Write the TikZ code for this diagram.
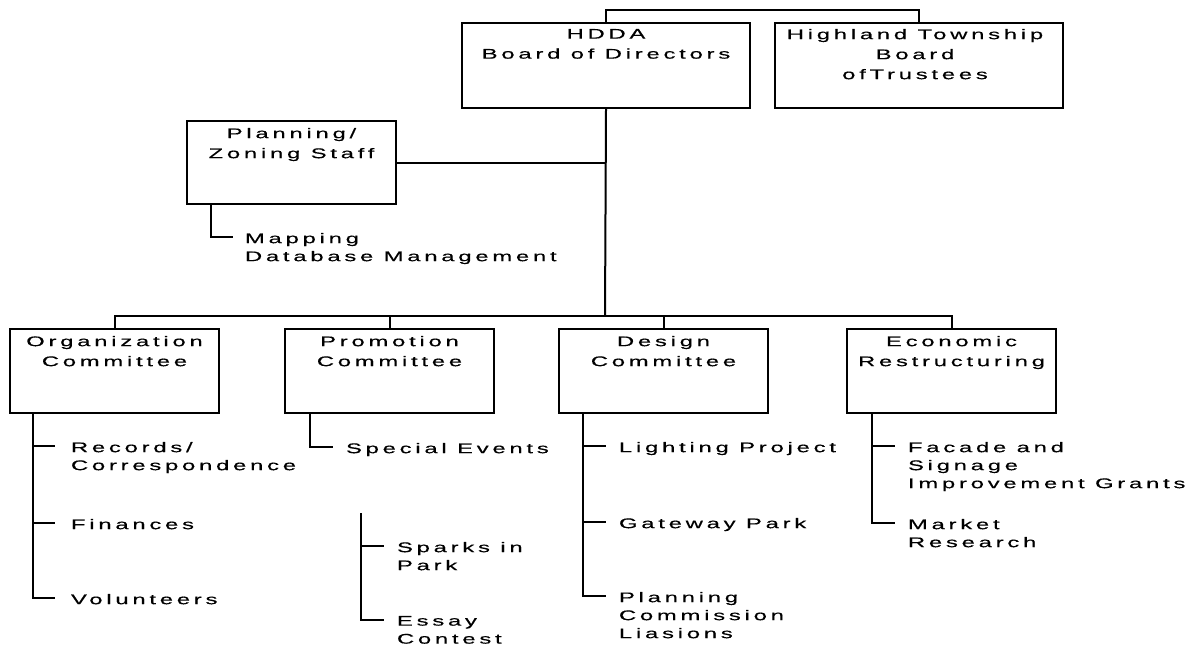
\documentclass[tikz,border=0pt]{standalone}
\usepackage{fontspec}
\setmainfont{Liberation Sans}[FakeStretch=1.7,LetterSpace=27,FakeBold=0.4]
\begin{document}
\begin{tikzpicture}[x=1pt,y=-1pt,
  line width=2pt,
  box/.style={draw,rectangle,inner sep=0pt,anchor=north west},
  boxtext/.style={anchor=north,inner sep=0pt,align=center,font=\fontsize{14}{20}\selectfont},
  item/.style={anchor=north west,inner sep=0pt,align=left,font=\fontsize{14}{18}\selectfont}]
\useasboundingbox (0,0) rectangle (1196,645);
% boxes
\node[box,minimum width=288,minimum height=85] (hdda) at (461,22) {};
\node[box,minimum width=288,minimum height=85] (hil) at (774,22) {};
\node[box,minimum width=209,minimum height=83] (plan) at (186,120) {};
\node[box,minimum width=209,minimum height=84] (org) at (9,328) {};
\node[box,minimum width=209,minimum height=84] (prom) at (284,328) {};
\node[box,minimum width=209,minimum height=84] (des) at (558,328) {};
\node[box,minimum width=209,minimum height=84] (eco) at (846,328) {};
% box texts
\node[boxtext] (hdda-t) at ([yshift=-6]hdda.north) {HDDA\\Board of Directors};
\node[boxtext] (hil-t) at ([xshift=-4,yshift=-6]hil.north) {Highland Township\\Board\\ofTrustees};
\node[boxtext] (plan-t) at ([yshift=-7]plan.north) {Planning/\\Zoning Staff};
\node[boxtext] (org-t) at ([yshift=-7]org.north) {Organization\\Committee};
\node[boxtext] (prom-t) at ([yshift=-7]prom.north) {Promotion\\Committee};
\node[boxtext] (des-t) at ([yshift=-7]des.north) {Design\\Committee};
\node[boxtext] (eco-t) at ([yshift=-7]eco.north) {Economic\\Restructuring};
% main connectors
\coordinate (top) at (605,10);
\coordinate (bus) at (605,316);
\draw (hdda.north) -- (hdda.north |- top) -| (hil.north);
\draw (hdda.south) -- (bus);
\draw (plan.east) -- (plan.east -| bus);
\draw (org.north) |- (bus) -| (eco.north);
\draw (prom.north) -- (prom.north |- bus);
\draw (des.north) -- (des.north |- bus);
% planning sub
\coordinate (m1) at (233,237);
\node[item] (map) at (244,232) {Mapping\\Database Management};
\draw (211,0 |- plan.south) |- (m1);
% organization sub
\coordinate (o1) at (55,446);
\coordinate (o2) at (55,523);
\coordinate (o3) at (55,598);
\node[item] (rec) at (70,441) {Records/\\Correspondence};
\node[item] (fin) at (70,518) {Finances};
\node[item] (vol) at (70,593) {Volunteers};
\draw (33,0 |- org.south) |- (o3);
\draw (33,0 |- o1) -- (o1);
\draw (33,0 |- o2) -- (o2);
% promotion sub
\coordinate (p1) at (333,447);
\node[item] (spe) at (345,442) {Special Events};
\draw (310,0 |- prom.south) |- (p1);
\coordinate (s0) at (361,513);
\coordinate (s1) at (384,546);
\coordinate (s2) at (384,620);
\node[item] (spa) at (396,541) {Sparks in\\Park};
\node[item] (ess) at (396,615) {Essay\\Contest};
\draw (s0) |- (s2);
\draw (s0 |- s1) -- (s1);
% design sub
\coordinate (d1) at (606,446);
\coordinate (d2) at (606,522);
\coordinate (d3) at (606,596);
\node[item] (lig) at (618,441) {Lighting Project};
\node[item] (gat) at (618,517) {Gateway Park};
\node[item] (pla) at (618,591) {Planning\\Commission\\Liasions};
\draw (583,0 |- des.south) |- (d3);
\draw (583,0 |- d1) -- (d1);
\draw (583,0 |- d2) -- (d2);
% economic sub
\coordinate (e1) at (895,446);
\coordinate (e2) at (895,523);
\node[item] (fac) at (907,441) {Facade and\\Signage\\Improvement Grants};
\node[item] (mar) at (907,518) {Market\\Research};
\draw (872,0 |- eco.south) |- (e2);
\draw (872,0 |- e1) -- (e1);
\end{tikzpicture}
\end{document}
